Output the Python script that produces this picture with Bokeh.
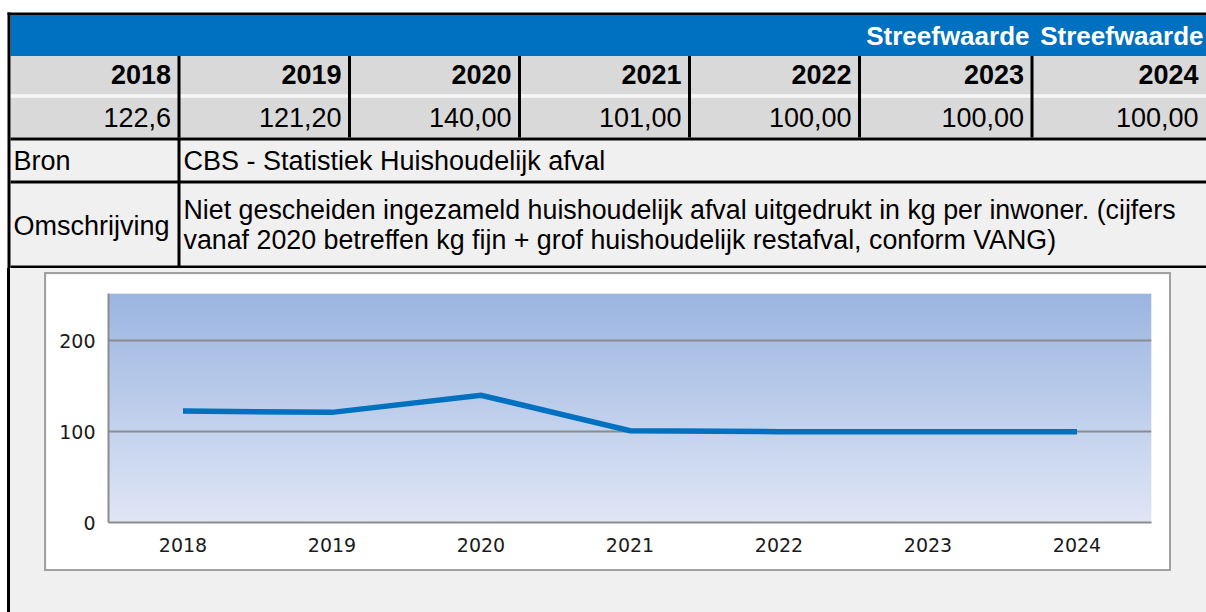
import numpy as np
from bokeh.plotting import figure
from bokeh.layouts import column, row
from bokeh.models import Range1d, FixedTicker, Spacer
from bokeh.core.properties import value
from bokeh.embed import file_html
from bokeh.resources import INLINE

# ---------------- data ----------------
years = [2018, 2019, 2020, 2021, 2022, 2023, 2024]
year_labels = ["2018", "2019", "2020", "2021", "2022", "2023", "2024"]
values = [122.6, 121.2, 140.0, 101.0, 100.0, 100.0, 100.0]
value_labels = ["122,6", "121,20", "140,00", "101,00", "100,00", "100,00", "100,00"]
header_labels = ["", "", "", "", "", "Streefwaarde", "Streefwaarde"]
row_labels = ["Bron", "Omschrijving"]
bron_text = ["CBS - Statistiek Huishoudelijk afval"]
desc_lines = [
    "Niet gescheiden ingezameld huishoudelijk afval uitgedrukt in kg per inwoner. (cijfers",
    "vanaf 2020 betreffen kg fijn + grof huishoudelijk restafval, conform VANG)",
]
y_ticks = [0, 100, 200]

# ---------------- table ----------------
W, TH, CH = 1206, 268, 344
TFONT = value("Liberation Sans")
FS = "27px"
t = figure(width=W, height=TH, x_range=Range1d(0, W), y_range=Range1d(TH, 0),
           output_backend="svg", toolbar_location=None, min_border=0,
           x_axis_location=None, y_axis_location=None)
t.grid.visible = False
t.outline_line_color = None
t.background_fill_color = "white"
t.border_fill_color = "white"

edges = [10, 178.5, 349, 519, 689, 859, 1031.5, 1206]
right_text = [e - 8 for e in edges[1:]]
head_text = [e - 2.5 for e in edges[1:]]
head_text[-1] = 1203

# backgrounds
t.quad(left=[10], right=[W], top=[14.5], bottom=[55.5], fill_color="#0070c0", line_color=None)
t.quad(left=[10, 10], right=[W, W], top=[55.5, 97], bottom=[94, 137],
       fill_color="#d9d9d9", line_color=None)
t.quad(left=[10], right=[W], top=[94], bottom=[97], fill_color="#f6f6f6", line_color=None)
t.quad(left=[10, 10], right=[W, W], top=[140, 183], bottom=[180, 265],
       fill_color="#f0f0f0", line_color=None)
# black rules
t.quad(left=[7, 10, 10, 10], right=[W, W, W, W], top=[12, 137, 180, 265],
       bottom=[14.5, 140, 183, 268], fill_color="black", line_color=None)
t.quad(left=[7], right=[10], top=[12], bottom=[TH], fill_color="black", line_color=None)
mid = edges[1:-1]
t.quad(left=[e - 1.5 for e in mid], right=[e + 1.5 for e in mid],
       top=[55.5] * len(mid), bottom=[137] * len(mid), fill_color="black", line_color=None)
t.quad(left=[edges[1] - 1.5], right=[edges[1] + 1.5], top=[137], bottom=[TH],
       fill_color="black", line_color=None)

# texts
t.text(x=head_text, y=[35] * 7, text=header_labels, text_font=TFONT,
       text_font_size="26px", text_font_style="bold", text_color="white",
       text_align="right", text_baseline="middle")
t.text(x=right_text, y=[74] * 7, text=year_labels, text_font=TFONT,
       text_font_size=FS, text_font_style="bold", text_color="black",
       text_align="right", text_baseline="middle")
t.text(x=right_text, y=[117] * 7, text=value_labels, text_font=TFONT,
       text_font_size=FS, text_color="black",
       text_align="right", text_baseline="middle")
t.text(x=[13, 13], y=[160, 225.5], text=row_labels, text_font=TFONT,
       text_font_size=FS, text_color="black",
       text_align="left", text_baseline="middle")
t.text(x=[183], y=[160], text=bron_text, text_font=TFONT,
       text_font_size=FS, text_color="black",
       text_align="left", text_baseline="middle")
t.text(x=[183, 183], y=[209, 239], text=desc_lines, text_font=TFONT,
       text_font_size="26.8px", text_color="black",
       text_align="left", text_baseline="middle")

# ---------------- chart ----------------
c = figure(width=1123, height=295,
           x_range=Range1d(2017.5, 2024.5), y_range=Range1d(0, 252),
           output_backend="svg", toolbar_location=None,
           min_border_left=62, min_border_right=18, min_border_top=19, min_border_bottom=47)
c.outline_line_color = None
c.background_fill_color = "white"
c.border_fill_color = "white"

# vertical gradient background of the plot area
n = 128
top_rgb = np.array([0x9b, 0xb5, 0xe1], dtype=float)
bot_rgb = np.array([0xdf, 0xe6, 0xf5], dtype=float)
img = np.empty((n, 2), dtype=np.uint32)
view = img.view(dtype=np.uint8).reshape((n, 2, 4))
for i in range(n):
    f = i / (n - 1)
    col = bot_rgb + (top_rgb - bot_rgb) * f
    view[i, :, 0] = int(round(col[0]))
    view[i, :, 1] = int(round(col[1]))
    view[i, :, 2] = int(round(col[2]))
    view[i, :, 3] = 255
c.image_rgba(image=[img], x=2017.5, y=0, dw=7, dh=252, level="image")

c.xgrid.visible = False
c.ygrid.ticker = FixedTicker(ticks=y_ticks)
c.ygrid.grid_line_color = "#8c8c8c"
c.ygrid.grid_line_width = 2

c.line(years, values, line_color="#0070c0", line_width=5.5, line_join="miter")

c.xaxis.ticker = FixedTicker(ticks=years)
c.yaxis.ticker = FixedTicker(ticks=y_ticks)
for ax in (c.xaxis[0], c.yaxis[0]):
    ax.axis_line_color = "#8c8c8c"
    ax.axis_line_width = 2
    ax.major_tick_line_color = None
    ax.minor_tick_line_color = None
    ax.major_tick_out = 0
    ax.major_tick_in = 0
    ax.major_label_text_font = "DejaVu Sans"
    ax.major_label_text_font_size = "19px"
    ax.major_label_text_color = "#1a1a1a"
c.xaxis.major_label_standoff = 15
c.yaxis.major_label_standoff = 13

c.margin = (6, 0, 0, 36)
c.styles = {"outline": "2px solid #a0a0a0"}

strip = Spacer(width=10, height=CH,
               styles={"background": "linear-gradient(to right, white 7px, black 7px)"})
section = row(strip, c, width=W, height=CH, styles={"background-color": "#f0f0f0"})

p = column(t, section, width=W, height=TH + CH)

open("out.html", "w").write(file_html(p, INLINE))
